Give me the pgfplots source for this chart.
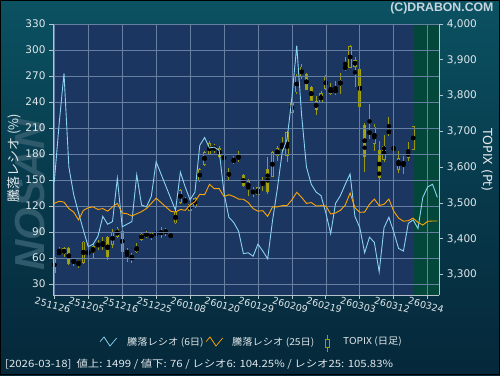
\documentclass[border=0pt]{standalone}
\usepackage{graphicx}
\usepackage{pgfplots}
\pgfplotsset{compat=1.18}
\usepackage{pgfplotstable}
\usepackage{fontspec}
\setmainfont{DejaVu Sans}
\newfontfamily\jp{Noto Sans CJK JP}
\newfontfamily\lib{Liberation Sans}
\definecolor{bgtop}{HTML}{0B5262}
\definecolor{bgmid}{HTML}{073A4C}
\definecolor{bgbot}{HTML}{05283A}
\definecolor{plotbg}{HTML}{1C3662}
\definecolor{futbg}{HTML}{03473A}
\definecolor{gridc}{HTML}{6680A4}
\definecolor{axisc}{HTML}{B8C4CC}
\definecolor{txtc}{HTML}{E2E8EC}
\definecolor{titlec}{HTML}{C8D6DE}
\definecolor{r6c}{HTML}{8AD2F2}
\definecolor{r25c}{HTML}{FFA500}
\definecolor{candc}{HTML}{A3A30F}
\definecolor{candl}{HTML}{9A9A10}
\definecolor{wmk}{HTML}{2E5A6C}

\pgfplotstableread{
x r6 r25
0 148 123
1 215 125.5
2 273 124.5
3 165 117
4 133 113
5 112 104
6 92 115
7 73 118
8 76 119
9 85 116
10 108 117
11 99 114
12 102 119
13 152 123
14 96 112
15 99 111
16 102 108.5
17 156 111
18 121 113.5
19 119 117
20 131 123
21 171 129
22 157 124
23 143 119
24 129 114
25 115 113
26 159 116
27 142 115
28 127 121
29 136 125
30 190 133.5
31 199 133
32 187 145
33 188 140
34 184 140
35 135 131
36 107 133
37 101 131
38 91 128
39 65 127.7
40 66 124
41 62 117
42 76 114
43 68 114.6
44 59 108
45 103 119
46 140 119
47 182 120.4
48 197 120.5
49 245 127
50 305 135.8
51 225 130
52 165 123
53 145 124
54 136 120
55 132 120.4
56 112 120
57 88 110.8
58 123 112
59 132 115
60 145 121
61 157 135
62 108 118
63 95 112.7
64 66 113
65 84 122
66 78 128
67 44 120.4
68 95 122
69 107 128
70 90 114
71 71 106
72 68 102.5
73 100 103
74 104 106
75 94 101
76 130 98
77 142 102.3
78 145 102.7
79 130 102.7
}\ratios

\pgfplotstableread{
x o h l c
0 3305 3352 3302 3350
1 3364 3378 3355 3357
2 3358 3378 3350 3373
3 3375 3378 3326 3330
4 3343 3346 3325 3332
5 3338 3341 3318 3327
6 3332 3394 3329 3392
7 3369 3378 3341 3355
8 3360 3387 3346 3380
9 3387 3397 3369 3378
10 3378 3406 3369 3389
11 3405 3408 3341 3350
12 3383 3427 3375 3420
13 3405 3434 3402 3428
14 3422 3424 3362 3364
15 3366 3373 3336 3360
16 3352 3360 3332 3346
17 3364 3387 3360 3378
18 3413 3416 3395 3398
19 3404 3423 3402 3420
20 3415 3420 3397 3401
21 3416 3429 3401 3413
22 3418 3434 3401 3416
23 3415 3430 3408 3425
24 3413 3416 3401 3404
25 3443 3480 3441 3476
26 3501 3540 3498 3536
27 3508 3518 3497 3502
28 3478 3502 3474 3498
29 3490 3518 3486 3514
30 3562 3598 3558 3595
31 3607 3646 3604 3642
32 3635 3672 3633 3667
33 3657 3665 3639 3651
34 3654 3660 3626 3629
35 3635 3640 3610 3620
36 3574 3598 3562 3586
37 3624 3632 3609 3612
38 3632 3646 3614 3623
39 3578 3581 3544 3547
40 3539 3567 3520 3561
41 3534 3544 3516 3528
42 3523 3553 3506 3544
43 3551 3572 3534 3565
44 3595 3628 3525 3532
45 3574 3646 3572 3642
46 3632 3660 3618 3653
47 3663 3684 3642 3651
48 3632 3700 3614 3698
49 3751 3790 3745 3781
50 3809 3860 3804 3856
51 3851 3888 3846 3881
52 3860 3862 3815 3817
53 3825 3828 3784 3786
54 3786 3800 3746 3759
55 3781 3812 3778 3806
56 3818 3858 3816 3853
57 3821 3834 3802 3805
58 3806 3840 3802 3820
59 3828 3862 3805 3844
60 3881 3907 3870 3875
61 3878 3940 3876 3938
62 3881 3907 3823 3900
63 3873 3875 3763 3769
64 3719 3723 3586 3629
65 3691 3777 3679 3702
66 3665 3721 3646 3713
67 3648 3674 3490 3570
68 3620 3691 3614 3660
69 3702 3741 3688 3695
70 3660 3670 3632 3646
71 3593 3646 3583 3625
72 3615 3632 3581 3607
73 3646 3670 3618 3625
74 3649 3716 3647 3714
}\topix

\pgfplotsset{
  chartframe/.style={at={(53pt,80pt)}, anchor=south west, scale only axis,
    width=386.3pt, height=271pt, xmin=-0.27, xmax=79.4},
  candlebar/.style 2 args={only marks, mark=none, error bars/.cd, y dir=both, y explicit,
    error mark=none, error bar style={draw=#1, line width=#2}},
}

\begin{document}
\begin{tikzpicture}
\useasboundingbox (0pt,0pt) rectangle (500pt,375pt);
\shade[top color=bgtop, bottom color=bgbot, middle color=bgmid] (0pt,0pt) rectangle (500pt,375pt);
\node[rotate=90, font=\lib\bfseries\itshape\fontsize{42}{42}\selectfont, text=wmk] at (30pt,180pt) {NOSAN};
\node[anchor=east, font=\lib\bfseries\fontsize{12.3}{14}\selectfont, text=titlec] at (497pt,367pt) {(C)DRABON.COM};
\node[rotate=90, font=\jp\fontsize{13}{15}\selectfont, text=txtc] at (14pt,217pt) {騰落レシオ (\%)};
\node[rotate=-90, font=\fontsize{12.5}{15}\selectfont, text=txtc] at (487pt,215pt) {TOPIX (Pt)};

% plot area background and future region
\begin{axis}[chartframe, ymin=3243, ymax=4000, hide axis]
\addplot[fill=plotbg, draw=none] coordinates {(-0.27,3243) (79.4,3243) (79.4,4000) (-0.27,4000)};
\addplot[fill=futbg, draw=none] coordinates {(74.2,3243) (79.4,3243) (79.4,4000) (74.2,4000)};
\end{axis}

% TOPIX candles, right axis
\begin{axis}[chartframe, ymin=3243, ymax=4000,
  axis x line=none, axis y line*=right,
  axis line style={draw=axisc, line width=1pt},
  ytick={3300,3400,...,4000},
  tick align=outside, major tick length=4pt,
  tick style={draw=axisc, line width=0.8pt},
  yticklabel style={font=\fontsize{10.5}{12}\selectfont, text=txtc},
  /pgf/number format/1000 sep={,},
  /pgf/number format/assume math mode=true,
]
\addplot[candlebar={candl}{0.8pt}]
   table[x=x, y expr={(\thisrow{h}+\thisrow{l})/2}, y error expr={(\thisrow{h}-\thisrow{l})/2}] {\topix};
\addplot[candlebar={candl}{3.2pt}]
   table[x=x, y expr={(\thisrow{o}+\thisrow{c})/2}, y error expr={max(abs(\thisrow{o}-\thisrow{c})/2,1.2)}] {\topix};
\addplot[candlebar={candc}{1.8pt}]
   table[x=x, y expr={(\thisrow{o}+\thisrow{c})/2}, y error expr={(\thisrow{c}<\thisrow{o})*max(abs(\thisrow{o}-\thisrow{c})/2-2,0)}] {\topix};
\addplot[candlebar={plotbg}{1.8pt}]
   table[x=x, y expr={(\thisrow{o}+\thisrow{c})/2}, y error expr={(\thisrow{c}>\thisrow{o})*max(abs(\thisrow{o}-\thisrow{c})/2-2,0)}] {\topix};
\end{axis}

% ratios, left axis, grid
\begin{axis}[chartframe, ymin=17.3, ymax=330,
  axis x line*=bottom, axis y line*=left,
  axis line style={draw=axisc, line width=1pt},
  xtick={0,7,...,77},
  xticklabels={251126,251205,251216,251225,260108,260120,260129,260209,260219,260303,260312,260324},
  ytick={30,60,...,330},
  grid=major, major grid style={draw=gridc, line width=0.6pt},
  tick align=outside, major tick length=4pt,
  tick style={draw=axisc, line width=0.8pt},
  yticklabel style={font=\fontsize{10.5}{12}\selectfont, text=txtc},
  xticklabel style={font=\fontsize{9.5}{11}\selectfont, text=txtc, rotate=-15, anchor=center, yshift=-6.5pt},
  /pgf/number format/assume math mode=true,
]
\addplot[r6c, line width=0.9pt, mark=none] table[x=x, y=r6] {\ratios};
\addplot[r25c, line width=0.9pt, mark=none] table[x=x, y=r25] {\ratios};
\end{axis}

% legend
\draw[r6c, line width=0.7pt] (100pt,33.3pt) -- (104pt,38pt) -- (110pt,29pt) -- (116.7pt,37pt);
\node[anchor=west, inner sep=0pt, font=\jp\fontsize{9.5}{11}\selectfont, text=txtc] at (127pt,33pt) {\scalebox{1.08}[1]{騰落レシオ (6日)}};
\draw[r25c, line width=0.7pt] (206pt,33.3pt) -- (210pt,38pt) -- (216pt,29pt) -- (222.7pt,37pt);
\node[anchor=west, inner sep=0pt, font=\jp\fontsize{9.5}{11}\selectfont, text=txtc] at (232pt,33pt) {\scalebox{1.08}[1]{騰落レシオ (25日)}};
\draw[candl, line width=0.8pt] (327.5pt,23pt) -- (327.5pt,28pt) (327.5pt,36pt) -- (327.5pt,40pt);
\draw[candl, line width=0.8pt] (325.5pt,28pt) rectangle (329.5pt,36pt);
\node[anchor=west, inner sep=0pt, font=\jp\fontsize{9.5}{11}\selectfont, text=txtc] at (343pt,33pt) {\scalebox{1.08}[1]{TOPIX (日足)}};

\node[anchor=west, inner sep=0pt, font=\jp\fontsize{10}{12}\selectfont, text=txtc] at (5pt,10.5pt) {\scalebox{1.14}[1]{[2026-03-18]\ \ 値上: 1499 / 値下: 76 / レシオ6: 104.25\% / レシオ25: 105.83\%}};
\draw[black, line width=1pt] (0.5pt,0.5pt) rectangle (499.5pt,374.5pt);
\end{tikzpicture}
\end{document}
